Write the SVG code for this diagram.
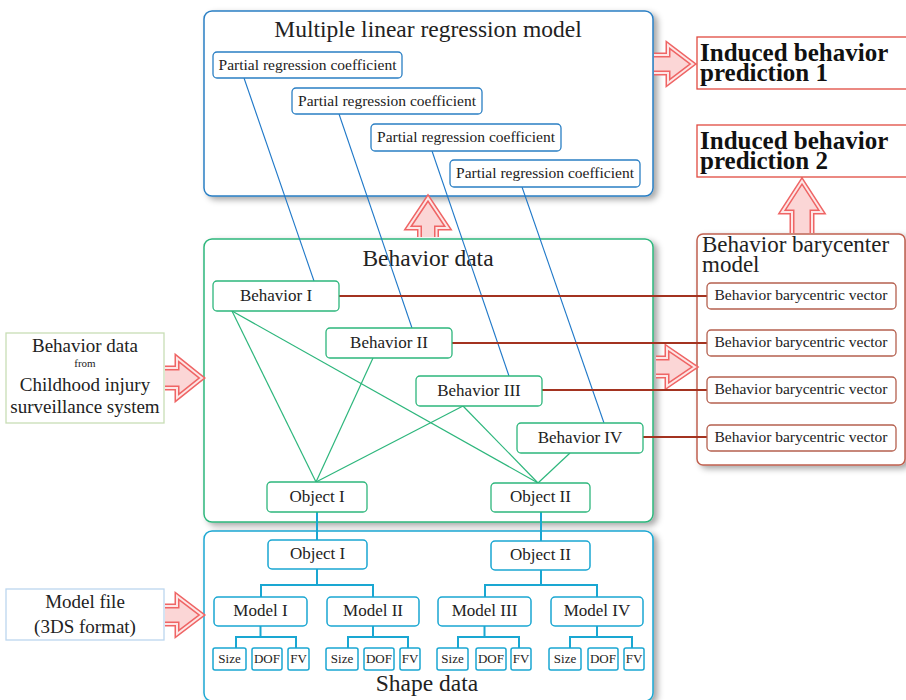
<svg xmlns="http://www.w3.org/2000/svg" width="906" height="700" viewBox="0 0 906 700">
<defs>
<filter id="sh" x="-5%" y="-5%" width="115%" height="115%">
<feDropShadow dx="4" dy="3" stdDeviation="3" flood-color="#000" flood-opacity="0.35"/>
</filter>
</defs>
<style>
text{font-family:"Liberation Serif","Times New Roman",serif;fill:#222}
.big{fill:#fff;stroke-width:1.5;filter:url(#sh)}
.blue{stroke:#2a7fc4}
.green{stroke:#2db67c}
.cyan{stroke:#1aa7d2}
.brown{stroke:#c0604f}
.nb{fill:#fff;stroke:#2a7fc4;stroke-width:1.3}
.ng{fill:#fff;stroke:#2db67c;stroke-width:1.3}
.nc{fill:#fff;stroke:#1aa7d2;stroke-width:1.5}
.nr{fill:#fff;stroke:#b5604f;stroke-width:1.3}
.t{text-anchor:middle}
.af{fill:#fbd6d6;stroke:#ef6565;stroke-width:5;stroke-linejoin:miter}
.ai{fill:none;stroke:#fde6e6;stroke-width:2;stroke-linejoin:miter}
.pred{fill:#fff;stroke:#e04a40;stroke-width:1.3}
.pt{font-weight:bold;font-size:25px;fill:#111}
.prc{font-size:15.5px}
.bn{font-size:17px}
.lf{font-size:13px}
.in{font-size:19px}
.ti{font-size:23.5px}
</style>

<!-- big containers -->
<g id="regression-model">
<rect class="big blue" x="204" y="11" width="449" height="185" rx="8"/>
<text class="t ti" x="428" y="37">Multiple linear regression model</text>
</g>
<g id="behavior-data">
<rect class="big green" x="204" y="239" width="449" height="283" rx="8"/>
<text class="t ti" x="428" y="266">Behavior data</text>
</g>
<g id="shape-data">
<rect class="big cyan" x="204" y="531" width="449" height="170" rx="8"/>
<text class="t ti" x="427" y="691">Shape data</text>
</g>
<g id="barycenter-model">
<rect class="big brown" x="697" y="234" width="208" height="231" rx="6"/>
<text x="702" y="252" font-size="23">Behavior barycenter</text>
<text x="702" y="272" font-size="23">model</text>
</g>

<!-- arrows -->
<g id="arrows">
<path class="af" d="M654,55 L668,55 L668,45 L693,64 L668,83 L668,73 L654,73"/>
<path class="ai" d="M654,55 L668,55 L668,45 L693,64 L668,83 L668,73 L654,73"/>
<path class="af" d="M656,358 L667,358 L667,348 L695,367 L667,386 L667,376 L656,376"/>
<path class="ai" d="M656,358 L667,358 L667,348 L695,367 L667,386 L667,376 L656,376"/>
<path class="af" d="M419.5,237 L419.5,228 L408,228 L428,198 L448,228 L436.5,228 L436.5,237"/>
<path class="ai" d="M419.5,237 L419.5,228 L408,228 L428,198 L448,228 L436.5,228 L436.5,237"/>
<path class="af" d="M792,233 L792,212 L782,212 L802,181 L822,212 L812,212 L812,233"/>
<path class="ai" d="M792,233 L792,212 L782,212 L802,181 L822,212 L812,212 L812,233"/>
<path class="af" d="M165,368 L177,368 L177,358 L202,378 L177,398 L177,388 L165,388"/>
<path class="ai" d="M165,368 L177,368 L177,358 L202,378 L177,398 L177,388 L165,388"/>
<path class="af" d="M165,606 L177,606 L177,596 L202,615 L177,634 L177,624 L165,624"/>
<path class="ai" d="M165,606 L177,606 L177,596 L202,615 L177,634 L177,624 L165,624"/>
</g>

<!-- connectors -->
<g id="connectors" fill="none">
<g stroke="#1f78c8" stroke-width="1.1">
<line x1="244" y1="78" x2="314" y2="281"/>
<line x1="339" y1="114" x2="412" y2="328"/>
<line x1="432" y1="151" x2="509" y2="376"/>
<line x1="522" y1="187" x2="604" y2="423"/>
</g>
<g stroke="#2db67c" stroke-width="1.2">
<line x1="232" y1="311" x2="316" y2="482"/>
<line x1="232" y1="311" x2="538" y2="483"/>
<line x1="373" y1="358" x2="316" y2="482"/>
<line x1="463" y1="406" x2="316" y2="482"/>
<line x1="463" y1="406" x2="538" y2="483"/>
<line x1="570" y1="453" x2="538" y2="483"/>
</g>
<g stroke="#a33320" stroke-width="2">
<line x1="339" y1="296" x2="707" y2="296"/>
<line x1="452" y1="343" x2="707" y2="343"/>
<line x1="542" y1="390" x2="707" y2="390"/>
<line x1="643" y1="437" x2="707" y2="437"/>
</g>
<g stroke="#1aa7d2" stroke-width="2">
<line x1="317" y1="512" x2="317" y2="540"/>
<line x1="541" y1="512" x2="541" y2="541"/>
<path d="M317,569 V585 M261,597 V585 H373 V597"/>
<path d="M541,570 V585 M485,597 V585 H597 V597"/>
<path d="M260.5,626 V637 M236,648 V637 H296 V648"/>
<path d="M373,626 V637 M348,648 V637 H408 V648"/>
<path d="M484.5,626 V637 M458,648 V637 H519 V648"/>
<path d="M597,626 V637 M570,648 V637 H632 V648"/>
</g>
</g>

<!-- regression coefficients -->
<g id="prc1"><rect class="nb" x="213" y="52" width="189" height="26" rx="4"/><text class="t prc" x="307.5" y="70">Partial regression coefficient</text></g>
<g id="prc2"><rect class="nb" x="292" y="88" width="190" height="26" rx="4"/><text class="t prc" x="387" y="106">Partial regression coefficient</text></g>
<g id="prc3"><rect class="nb" x="371" y="124" width="190" height="27" rx="4"/><text class="t prc" x="466" y="142">Partial regression coefficient</text></g>
<g id="prc4"><rect class="nb" x="450" y="160" width="190" height="27" rx="4"/><text class="t prc" x="545" y="178">Partial regression coefficient</text></g>

<!-- behaviors -->
<g id="behavior1"><rect class="ng" x="213" y="281" width="126" height="30" rx="4"/><text class="t bn" x="276" y="301">Behavior I</text></g>
<g id="behavior2"><rect class="ng" x="326" y="328" width="126" height="30" rx="4"/><text class="t bn" x="389" y="348">Behavior II</text></g>
<g id="behavior3"><rect class="ng" x="416" y="376" width="126" height="30" rx="4"/><text class="t bn" x="479" y="396">Behavior III</text></g>
<g id="behavior4"><rect class="ng" x="517" y="423" width="126" height="30" rx="4"/><text class="t bn" x="580" y="443">Behavior IV</text></g>
<g id="bobject1"><rect class="ng" x="267" y="482" width="100" height="30" rx="4"/><text class="t bn" x="317" y="502">Object I</text></g>
<g id="bobject2"><rect class="ng" x="491" y="483" width="99" height="29" rx="4"/><text class="t bn" x="540.5" y="502">Object II</text></g>

<!-- barycentric vectors -->
<g id="bbv1"><rect class="nr" x="707" y="283" width="189" height="26" rx="4"/><text class="t prc" x="801" y="300">Behavior barycentric vector</text></g>
<g id="bbv2"><rect class="nr" x="707" y="330" width="189" height="26" rx="4"/><text class="t prc" x="801" y="347">Behavior barycentric vector</text></g>
<g id="bbv3"><rect class="nr" x="707" y="377" width="189" height="26" rx="4"/><text class="t prc" x="801" y="394">Behavior barycentric vector</text></g>
<g id="bbv4"><rect class="nr" x="707" y="425" width="189" height="26" rx="4"/><text class="t prc" x="801" y="442">Behavior barycentric vector</text></g>

<!-- predictions -->
<g id="prediction1"><rect class="pred" x="697" y="37" width="210" height="52"/><text class="pt" x="700" y="61">Induced behavior</text><text class="pt" x="700" y="81">prediction 1</text></g>
<g id="prediction2"><rect class="pred" x="697" y="125" width="210" height="52"/><text class="pt" x="700" y="149">Induced behavior</text><text class="pt" x="700" y="169">prediction 2</text></g>

<!-- inputs -->
<g id="input-behavior">
<rect x="6" y="333" width="158" height="90" fill="#fff" stroke="#c8ddb5" stroke-width="1.3"/>
<text class="t in" x="85" y="352">Behavior data</text>
<text class="t" x="85" y="367" font-size="11">from</text>
<text class="t in" x="85" y="391">Childhood injury</text>
<text class="t in" x="85" y="413">surveillance system</text>
</g>
<g id="input-model">
<rect x="6" y="589" width="158" height="51" fill="#fff" stroke="#bcd6ee" stroke-width="1.3"/>
<text class="t in" x="85" y="608">Model file</text>
<text class="t in" x="85" y="633">(3DS format)</text>
</g>

<!-- shape tree -->
<g id="sobject1"><rect class="nc" x="268" y="540" width="99" height="29" rx="4"/><text class="t bn" x="317.5" y="559">Object I</text></g>
<g id="sobject2"><rect class="nc" x="491" y="541" width="99" height="29" rx="4"/><text class="t bn" x="540.5" y="560">Object II</text></g>
<g id="model1"><rect class="nc" x="214" y="597" width="93" height="29" rx="4"/><text class="t bn" x="260.5" y="616">Model I</text></g>
<g id="model2"><rect class="nc" x="327" y="597" width="92" height="29" rx="4"/><text class="t bn" x="373" y="616">Model II</text></g>
<g id="model3"><rect class="nc" x="438" y="597" width="93" height="29" rx="4"/><text class="t bn" x="484.5" y="616">Model III</text></g>
<g id="model4"><rect class="nc" x="551" y="597" width="92" height="29" rx="4"/><text class="t bn" x="597" y="616">Model IV</text></g>

<g id="leaves1">
<rect class="nc" x="213" y="648" width="33" height="22" rx="2"/><text class="t lf" x="229.5" y="663">Size</text>
<rect class="nc" x="252" y="648" width="30" height="22" rx="2"/><text class="t lf" x="267" y="663">DOF</text>
<rect class="nc" x="288" y="648" width="21" height="22" rx="2"/><text class="t lf" x="298.5" y="663">FV</text>
</g>
<g id="leaves2">
<rect class="nc" x="326" y="648" width="32" height="22" rx="2"/><text class="t lf" x="342" y="663">Size</text>
<rect class="nc" x="364" y="648" width="30" height="22" rx="2"/><text class="t lf" x="379" y="663">DOF</text>
<rect class="nc" x="400" y="648" width="20" height="22" rx="2"/><text class="t lf" x="410" y="663">FV</text>
</g>
<g id="leaves3">
<rect class="nc" x="437" y="648" width="31" height="22" rx="2"/><text class="t lf" x="452.5" y="663">Size</text>
<rect class="nc" x="476" y="648" width="30" height="22" rx="2"/><text class="t lf" x="491" y="663">DOF</text>
<rect class="nc" x="511" y="648" width="20" height="22" rx="2"/><text class="t lf" x="521" y="663">FV</text>
</g>
<g id="leaves4">
<rect class="nc" x="549" y="648" width="32" height="22" rx="2"/><text class="t lf" x="565" y="663">Size</text>
<rect class="nc" x="588" y="648" width="30" height="22" rx="2"/><text class="t lf" x="603" y="663">DOF</text>
<rect class="nc" x="624" y="648" width="20" height="22" rx="2"/><text class="t lf" x="634" y="663">FV</text>
</g>
</svg>
